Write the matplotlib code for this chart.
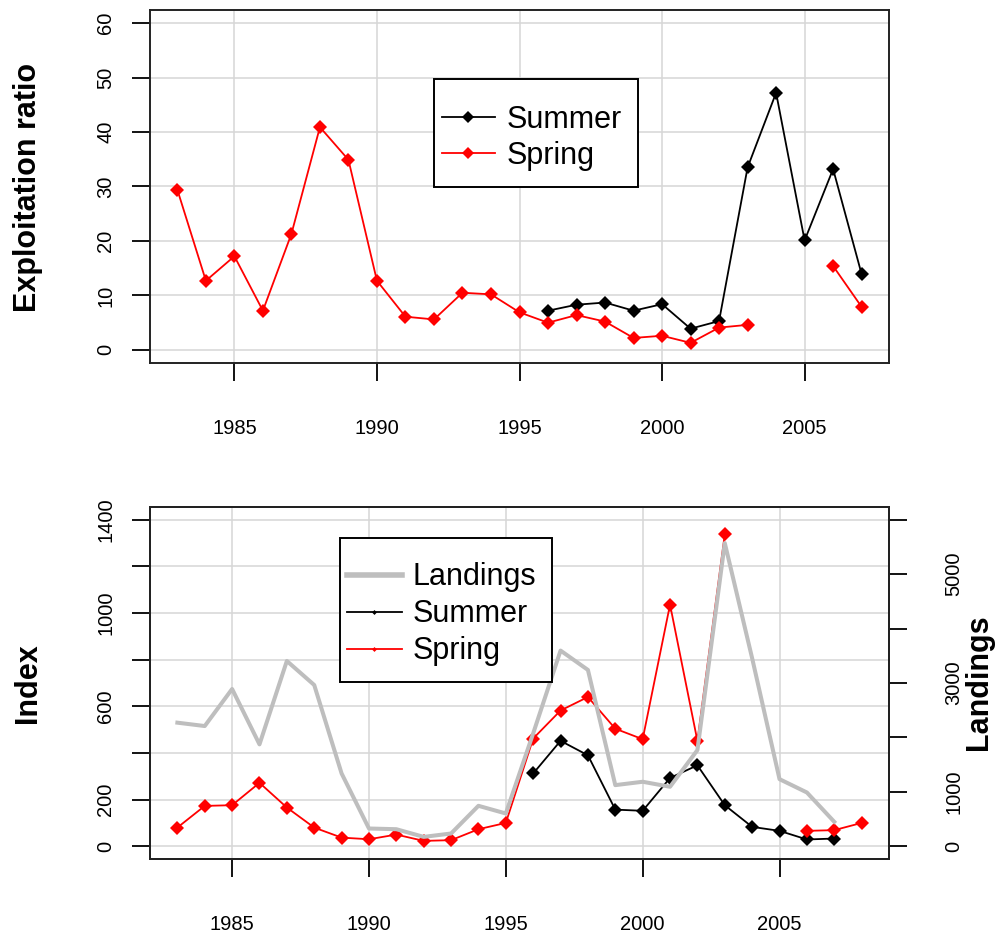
import matplotlib
matplotlib.use("Agg")
import matplotlib.pyplot as plt
import numpy as np
from matplotlib.lines import Line2D
from matplotlib.patches import Rectangle

plt.rcParams['font.family'] = ['Liberation Sans', 'DejaVu Sans']

nan = np.nan

# top panel: exploitation ratio
years_top = np.arange(1983, 2008)
spring_ratio = [29.4, 12.7, 17.2, 7.2, 21.3, 40.9, 34.9, 12.7, 6.1, 5.6, 10.5, 10.2,
                6.9, 5.0, 6.4, 5.2, 2.2, 2.6, 1.3, 4.1, 4.6, nan, nan, 15.4, 7.9]
summer_ratio = [nan] * 13 + [7.2, 8.3, 8.7, 7.2, 8.4, 3.9, 5.3, 33.5, 47.2, 20.1, 33.2, 13.9]

# bottom panel: survey index and landings
years_bot = np.arange(1983, 2009)
spring_index = [80, 173, 176, 272, 166, 80, 37, 30, 50, 23, 26, 73, 100,
                462, 582, 640, 504, 459, 1036, 452, 1337, nan, nan, 66, 69, 100]
summer_index = [nan] * 13 + [312, 452, 390, 157, 152, 293, 347, 176, 83, 66, 29, 33, nan]
landings = [2271, 2209, 2890, 1872, 3405, 2963, 1338, 326, 313, 172, 234, 743, 602,
            2074, 3596, 3240, 1123, 1185, 1093, 1767, 5572, 3455, 1233, 988, 449, nan]

xticks = [1985, 1990, 1995, 2000, 2005]
top_yticks = [0, 10, 20, 30, 40, 50, 60]
idx_yticks = [0, 200, 400, 600, 800, 1000, 1200, 1400]
idx_ylabels = ['0', '200', '', '600', '', '1000', '', '1400']
land_yticks = [0, 1000, 2000, 3000, 4000, 5000, 6000]
land_ylabels = ['0', '1000', '', '3000', '', '5000', '']

W, H = 1002, 938
fig = plt.figure(figsize=(W / 100, H / 100), dpi=100)
ax1 = fig.add_axes([150 / W, 1 - 363 / H, 739 / W, 353 / H])
ax2 = fig.add_axes([150 / W, 1 - 859.3 / H, 739 / W, 352.6 / H])

grid_c = '#d6d6d6'
tick_fs = 14.5
mk = dict(marker='D', markersize=7.3, markeredgewidth=0)
leg_mk = dict(marker='D', markersize=5.8, markeredgewidth=0)


def style(ax):
    for s in ax.spines.values():
        s.set_linewidth(1.4)
        s.set_color('#222222')
    ax.grid(True, color=grid_c, linewidth=1.1)
    ax.set_axisbelow(True)
    ax.tick_params(axis='x', length=13, width=1.3, pad=27, labelsize=tick_fs)
    ax.tick_params(axis='y', length=13, width=1.3, pad=12, labelsize=tick_fs,
                   labelrotation=90)
    for lab in ax.get_yticklabels():
        lab.set_va('center')


def legend_box(ax, x0, y0, w, h):
    # R-style legend frame drawn separately so the text can sit freely inside
    ax.add_patch(Rectangle((x0, y0), w, h, transform=ax.transAxes, facecolor='white',
                           edgecolor='black', linewidth=1.4, zorder=4.5, clip_on=False))


# ---- top panel
ax1.plot(years_top, summer_ratio, color='black', lw=1.3, **mk)
ax1.plot(years_top, spring_ratio, color='red', lw=1.3, **mk)
ax1.set_xlim(1982.04, 2007.96)
ax1.set_ylim(-2.4, 62.4)
ax1.set_xticks(xticks)
ax1.set_yticks(top_yticks)
style(ax1)
legend_box(ax1, 0.3843, 0.4977, 0.2765, 0.306)
ax1.legend(
    [Line2D([], [], color='black', lw=1.3, **leg_mk), Line2D([], [], color='red', lw=1.3, **leg_mk)],
    ['Summer', 'Spring'], loc='upper left', bbox_to_anchor=(0.3947, 0.731),
    borderaxespad=0, borderpad=0, fontsize=22, frameon=False,
    handlelength=1.74, handletextpad=0.4, labelspacing=0.19)

# ---- bottom panel
ax2.plot(years_bot, summer_index, color='black', lw=1.3, **mk)
ax2.plot(years_bot, spring_index, color='red', lw=1.3, **mk)
ax2.set_xlim(1982, 2009)
ax2.set_ylim(-56, 1456)
ax2.set_xticks(xticks)
ax2.set_yticks(idx_yticks)
ax2.set_yticklabels(idx_ylabels)
style(ax2)

ax3 = ax2.twinx()
ax3.plot(years_bot, landings, color='#bebebe', lw=2.9)
ax3.set_ylim(-240, 6240)
ax3.set_yticks(land_yticks)
ax3.set_yticklabels(land_ylabels)
ax3.tick_params(axis='y', length=13, width=1.3, pad=27, labelsize=tick_fs, labelrotation=90)
for lab in ax3.get_yticklabels():
    lab.set_va('center')
for s in ax3.spines.values():
    s.set_linewidth(1.4)
    s.set_color('#222222')

small = dict(marker='D', markersize=2.5, markeredgewidth=0)
legend_box(ax3, 0.2571, 0.5037, 0.2869, 0.4084)
ax3.legend(
    [Line2D([], [], color='#bebebe', lw=4),
     Line2D([], [], color='black', lw=1.3, **small),
     Line2D([], [], color='red', lw=1.3, **small)],
    ['Landings', 'Summer', 'Spring'], loc='upper left', bbox_to_anchor=(0.2662, 0.842),
    borderaxespad=0, borderpad=0, fontsize=22, frameon=False,
    handlelength=1.8, handletextpad=0.36, labelspacing=0.23)

# axis titles
fig.text(28 / W, 1 - 187.5 / H, 'Exploitation ratio', rotation=90, ha='center', va='center',
         fontsize=22, fontweight='bold')
fig.text(28 / W, 1 - 683 / H, 'Index', rotation=90, ha='center', va='center',
         fontsize=22, fontweight='bold')
fig.text(979 / W, 1 - 682 / H, 'Landings', rotation=90, ha='center', va='center',
         fontsize=22, fontweight='bold')

fig.savefig('out.png', dpi=100)
